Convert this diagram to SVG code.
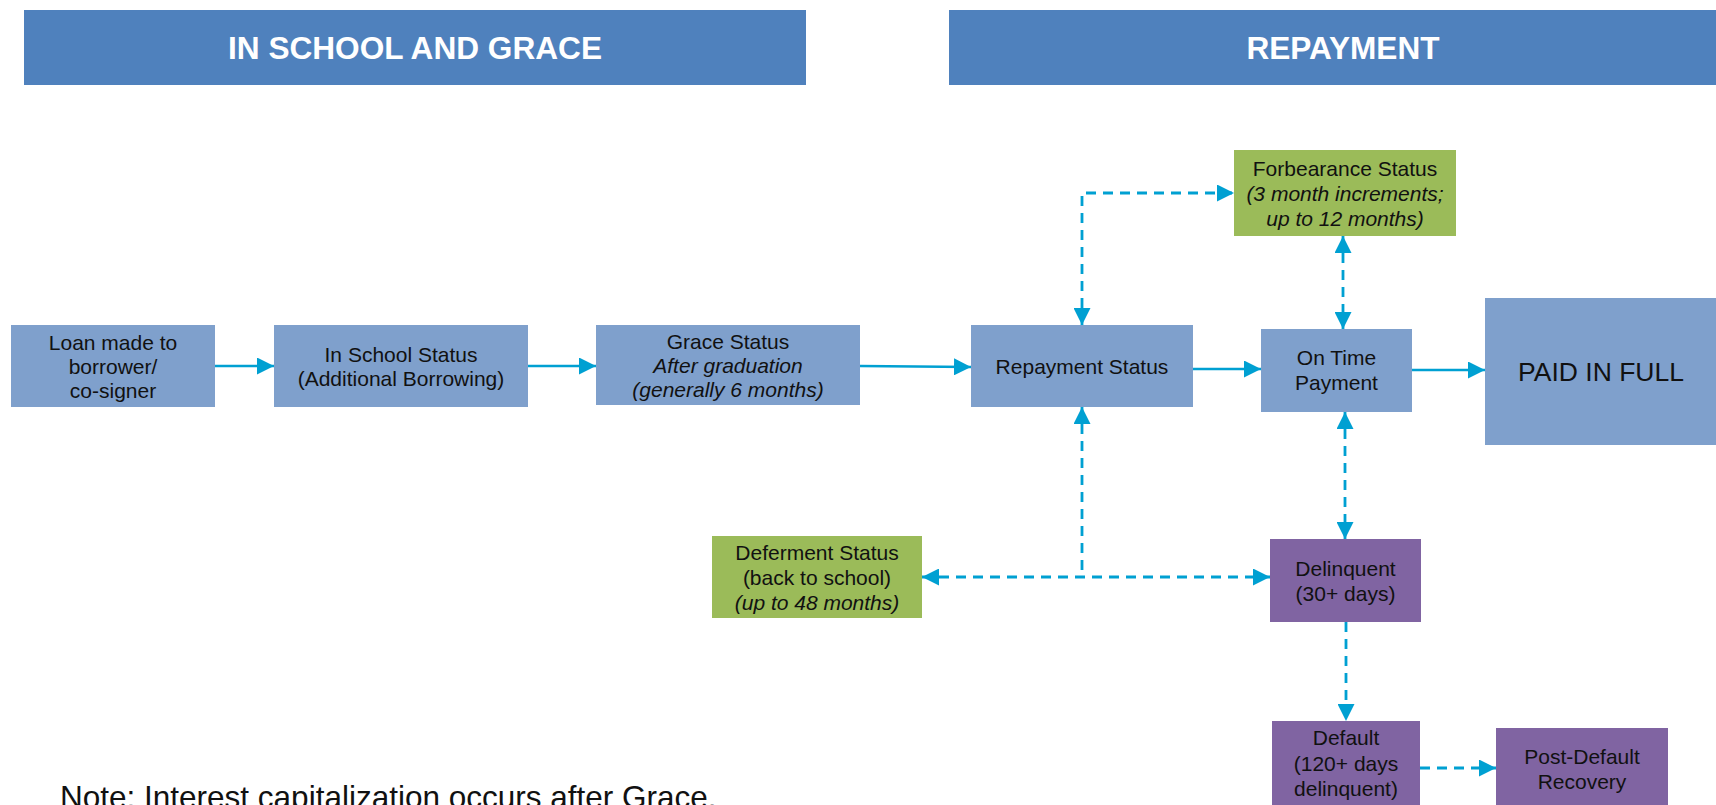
<svg xmlns="http://www.w3.org/2000/svg" width="1716" height="805" viewBox="0 0 1716 805">
<style>
.hdr{fill:#4F81BD}
.hdrt{font-family:"Liberation Sans",Arial,sans-serif;font-weight:bold;font-size:31px;fill:#fff;text-anchor:middle}
.blue{fill:#7FA0CC}
.green{fill:#9BBB59}
.purple{fill:#8064A2}
.t{font-family:"Liberation Sans",Arial,sans-serif;font-size:21px;fill:#111;text-anchor:middle}
.i{font-style:italic}
.solid{stroke:#00A0D2;stroke-width:2.6;fill:none;marker-end:url(#ah)}
.dash{stroke:#00A0D2;stroke-width:2.8;fill:none;stroke-dasharray:10 7}
</style>
<defs>
<marker id="ah" markerUnits="userSpaceOnUse" markerWidth="18" markerHeight="17" refX="17" refY="8.5" orient="auto-start-reverse" viewBox="0 0 18 17">
<path d="M0,0 L17,8.5 L0,17 z" fill="#00A0D2"/>
</marker>
</defs>
<rect width="1716" height="805" fill="#fff"/>
<g id="header-school">
<rect class="hdr" x="24" y="10" width="782" height="75"/>
<text class="hdrt" x="415" y="59" textLength="374" lengthAdjust="spacingAndGlyphs">IN SCHOOL AND GRACE</text>
</g>
<g id="header-repayment">
<rect class="hdr" x="949" y="10" width="767" height="75"/>
<text class="hdrt" x="1343" y="59" textLength="193" lengthAdjust="spacingAndGlyphs">REPAYMENT</text>
</g>
<g id="connectors">
<path class="solid" d="M215,366 H274"/>
<path class="solid" d="M528,366 H596"/>
<path class="solid" d="M860,366 L971,367"/>
<path class="solid" d="M1193,369 H1261"/>
<path class="solid" d="M1412,370 H1485"/>
<path class="dash" d="M1082,325 V193 H1234" marker-start="url(#ah)" marker-end="url(#ah)"/>
<path class="dash" d="M1343,236 V329" marker-start="url(#ah)" marker-end="url(#ah)"/>
<path class="dash" d="M1345,412 V539" marker-start="url(#ah)" marker-end="url(#ah)"/>
<path class="dash" d="M1082,407 V577" marker-start="url(#ah)"/>
<path class="dash" d="M922,577 H1270" marker-start="url(#ah)" marker-end="url(#ah)"/>
<path class="dash" d="M1346,622 V721" marker-end="url(#ah)"/>
<path class="dash" d="M1420,768 H1496" marker-end="url(#ah)"/>
</g>
<g id="loan">
<rect class="blue" x="11" y="325" width="204" height="82"/>
<text class="t" x="113" y="349.5">Loan made to</text>
<text class="t" x="113" y="373.5">borrower/</text>
<text class="t" x="113" y="397.5">co-signer</text>
</g>
<g id="in-school">
<rect class="blue" x="274" y="325" width="254" height="82"/>
<text class="t" x="401" y="361.5">In School Status</text>
<text class="t" x="401" y="385.5">(Additional Borrowing)</text>
</g>
<g id="grace">
<rect class="blue" x="596" y="325" width="264" height="80"/>
<text class="t" x="728" y="349">Grace Status</text>
<text class="t i" x="728" y="373">After graduation</text>
<text class="t i" x="728" y="397">(generally 6 months)</text>
</g>
<g id="repayment-status">
<rect class="blue" x="971" y="325" width="222" height="82"/>
<text class="t" x="1082" y="373.5">Repayment Status</text>
</g>
<g id="on-time">
<rect class="blue" x="1261" y="329" width="151" height="83"/>
<text class="t" x="1336.5" y="365">On Time</text>
<text class="t" x="1336.5" y="390">Payment</text>
</g>
<g id="paid">
<rect class="blue" x="1485" y="298" width="231" height="147"/>
<text class="t" x="1601" y="381" style="font-size:26.5px">PAID IN FULL</text>
</g>
<g id="forbearance">
<rect class="green" x="1234" y="150" width="222" height="86"/>
<text class="t" x="1345" y="176">Forbearance Status</text>
<text class="t i" x="1345" y="201">(3 month increments;</text>
<text class="t i" x="1345" y="226">up to 12 months)</text>
</g>
<g id="deferment">
<rect class="green" x="712" y="536" width="210" height="82"/>
<text class="t" x="817" y="560">Deferment Status</text>
<text class="t" x="817" y="585">(back to school)</text>
<text class="t i" x="817" y="610">(up to 48 months)</text>
</g>
<g id="delinquent">
<rect class="purple" x="1270" y="539" width="151" height="83"/>
<text class="t" x="1345.5" y="575.5">Delinquent</text>
<text class="t" x="1345.5" y="600.5">(30+ days)</text>
</g>
<g id="default">
<rect class="purple" x="1272" y="721" width="148" height="84"/>
<text class="t" x="1346" y="745">Default</text>
<text class="t" x="1346" y="771">(120+ days</text>
<text class="t" x="1346" y="796">delinquent)</text>
</g>
<g id="post-default">
<rect class="purple" x="1496" y="728" width="172" height="77"/>
<text class="t" x="1582" y="764">Post-Default</text>
<text class="t" x="1582" y="789">Recovery</text>
</g>
<text x="60" y="808" style="font-family:'Liberation Sans',Arial,sans-serif;font-size:31.5px;fill:#111">Note: Interest capitalization occurs after Grace.</text>
</svg>
